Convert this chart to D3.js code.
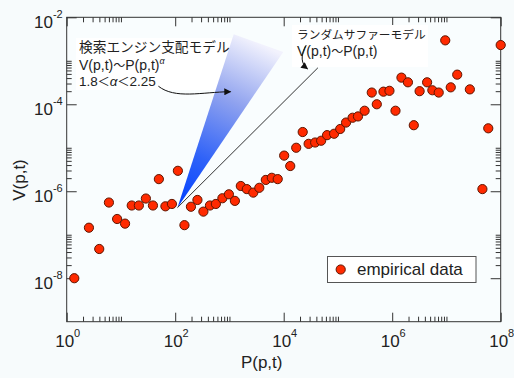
<!DOCTYPE html>
<html>
<head>
<meta charset="utf-8">
<script src="https://cdn.jsdelivr.net/npm/d3@7"></script>
<style>
  html, body { margin: 0; padding: 0; background: #f7fbfc; }
  svg { display: block; }
</style>
</head>
<body>
<svg id="chart" width="514" height="378"></svg>
<script>
// empirical data: P(p,t) and V(p,t)
const pValues = [
  1.38, 2.57, 3.98, 6.0, 8.5, 11.9, 15.8, 21.4, 28.8, 38.9,
  50, 66, 87, 112, 148, 195, 257, 331, 437, 562,
  741, 977, 1260, 1620, 2090, 2750, 3550, 4680, 6030, 7760,
  1.02e4, 1.32e4, 1.7e4, 2.24e4, 2.88e4, 3.8e4, 4.9e4, 6.3e4, 8.5e4, 1.1e5,
  1.41e5, 1.86e5, 2.34e5, 3.1e5, 4.2e5, 5.2e5, 6.9e5, 8.9e5, 1.15e6, 1.48e6,
  1.95e6, 2.5e6, 3.2e6, 4.4e6, 5.5e6, 7.2e6, 9.5e6, 1.2e7, 1.58e7, 2.7e7,
  4.6e7, 5.9e7, 1.0e8
];
const vValues = [
  1.0e-8, 1.45e-7, 4.7e-8, 5.5e-7, 2.3e-7, 1.8e-7, 4.7e-7, 4.7e-7, 6.8e-7, 4.7e-7,
  1.9e-6, 4.5e-7, 5.1e-7, 2.95e-6, 1.66e-7, 4.4e-7, 6.3e-7, 3.4e-7, 4.7e-7, 5.1e-7,
  6.9e-7, 8.5e-7, 6.0e-7, 1.32e-6, 1.12e-6, 9.3e-7, 1.2e-6, 1.82e-6, 2.04e-6, 1.9e-6,
  6.6e-6, 3.8e-6, 1.0e-5, 2.3e-5, 1.23e-5, 1.32e-5, 1.45e-5, 1.95e-5, 2.1e-5, 2.7e-5,
  3.8e-5, 4.9e-5, 5.25e-5, 7.1e-5, 1.86e-4, 1.0e-4, 1.95e-4, 2.04e-4, 7.1e-5, 4.1e-4,
  3.2e-4, 3.3e-5, 2.0e-4, 3.2e-4, 2.1e-4, 1.86e-4, 2.95e-3, 2.45e-4, 4.8e-4, 2.2e-4,
  1.12e-6, 2.8e-5, 2.3e-3
];

// tick labels (exponents of 10)
const xTickExps = [0, 2, 4, 6, 8];
const yTickExps = [-8, -6, -4, -2];

// model annotations in data space
const wedgeApex = [110, 4.2e-7];
const wedgeLeftEnd = [1200, 4.1e-3];
const wedgeRightEnd = [9800, 1.6e-3];
const surferEnd = [42700, 6.9e-4];

const svg = d3.select("#chart");
const mLeft = 66.7, mRight = 500.7, mTop = 17.3, mBottom = 321.7;

const x = d3.scaleLog().domain([1, 1e8]).range([mLeft, mRight]);
const y = d3.scaleLog().domain([1e-9, 1e-2]).range([mBottom, mTop]);

const LATIN = "'Liberation Sans', Arial, Helvetica, sans-serif";
const JP = "'Noto Sans CJK JP', 'Noto Sans', sans-serif";

// plot background
svg.append("rect")
  .attr("x", mLeft).attr("y", mTop)
  .attr("width", mRight - mLeft).attr("height", mBottom - mTop)
  .attr("fill", "#f9fdfe");

// --- ticks (major every two decades, minor 2..10 within even decades) ---
const xMajor = xTickExps.map(e => Math.pow(10, e));
const xMinor = xTickExps.slice(0, -1).flatMap(e => d3.range(2, 11).map(k => k * Math.pow(10, e)));
const yMajor = yTickExps.map(e => Math.pow(10, e));
const yMinor = yTickExps.slice(0, -1).flatMap(e => d3.range(2, 11).map(k => k * Math.pow(10, e)));

function styleAxis(g) {
  g.select(".domain").remove();
  g.selectAll("line").attr("stroke", "#333").attr("stroke-width", 1);
  g.selectAll("text").remove();
}

const axes = [
  [d3.axisBottom, x, `translate(0,${mBottom})`, xMajor, xMinor, 9],
  [d3.axisTop, x, `translate(0,${mTop})`, xMajor, xMinor, 9],
  [d3.axisLeft, y, `translate(${mLeft},0)`, yMajor, yMinor, 10],
  [d3.axisRight, y, `translate(${mRight},0)`, yMajor, yMinor, 10],
];
for (const [fn, sc, tr, major, minor, len] of axes) {
  svg.append("g").attr("transform", tr)
    .call(fn(sc).tickValues(major).tickSize(-len).tickFormat(""))
    .call(styleAxis);
  svg.append("g").attr("transform", tr)
    .call(fn(sc).tickValues(minor).tickSize(-5).tickFormat(""))
    .call(styleAxis);
}

// frame
svg.append("rect")
  .attr("x", mLeft).attr("y", mTop)
  .attr("width", mRight - mLeft).attr("height", mBottom - mTop)
  .attr("fill", "none").attr("stroke", "#333").attr("stroke-width", 1);

// tick labels
const xl = svg.append("g").attr("font-family", LATIN).attr("fill", "#222");
xTickExps.forEach(e => {
  const t = xl.append("text")
    .attr("x", x(Math.pow(10, e)) + 1)
    .attr("y", mBottom + 25)
    .attr("text-anchor", "middle")
    .attr("font-size", 17);
  t.append("tspan").text("10");
  t.append("tspan").attr("font-size", 11).attr("dy", -10).text(e);
});
yTickExps.forEach(e => {
  const t = xl.append("text")
    .attr("x", mLeft - 4)
    .attr("y", y(Math.pow(10, e)) + 11)
    .attr("text-anchor", "end")
    .attr("font-size", 17);
  t.append("tspan").text("10");
  t.append("tspan").attr("font-size", 11).attr("dy", -10).text(e);
});

// axis titles
svg.append("text")
  .attr("x", (mLeft + mRight) / 2 - 22)
  .attr("y", 368)
  .attr("text-anchor", "middle")
  .attr("font-family", LATIN).attr("font-size", 17).attr("fill", "#222")
  .text("P(p,t)");
svg.append("text")
  .attr("transform", `translate(25,180) rotate(-90)`)
  .attr("text-anchor", "middle")
  .attr("font-family", LATIN).attr("font-size", 17).attr("fill", "#222")
  .text("V(p,t)");

// text backgrounds
svg.append("rect").attr("x", 76).attr("y", 38).attr("width", 156).attr("height", 52).attr("fill", "#fff");
svg.append("rect").attr("x", 292).attr("y", 25).attr("width", 136).attr("height", 42).attr("fill", "#fff");

// --- search-engine wedge ---
const defs = svg.append("defs");
const ax = x(wedgeApex[0]), ay = y(wedgeApex[1]);
const topMid = [(x(wedgeLeftEnd[0]) + x(wedgeRightEnd[0])) / 2, (y(wedgeLeftEnd[1]) + y(wedgeRightEnd[1])) / 2];
const grad = defs.append("linearGradient")
  .attr("id", "wedgeGrad")
  .attr("gradientUnits", "userSpaceOnUse")
  .attr("x1", ax).attr("y1", ay)
  .attr("x2", topMid[0]).attr("y2", topMid[1]);
grad.append("stop").attr("offset", 0).attr("stop-color", "#0040ff");
grad.append("stop").attr("offset", 0.3).attr("stop-color", "#2f62f8");
grad.append("stop").attr("offset", 0.65).attr("stop-color", "#8fa2ef");
grad.append("stop").attr("offset", 1).attr("stop-color", "#f2f2fd");

svg.append("path")
  .attr("d", d3.line()([
    [ax, ay],
    [x(wedgeLeftEnd[0]), y(wedgeLeftEnd[1])],
    [x(wedgeRightEnd[0]), y(wedgeRightEnd[1])],
  ]) + "Z")
  .attr("fill", "url(#wedgeGrad)");

// --- random surfer line ---
svg.append("line")
  .attr("x1", ax).attr("y1", ay)
  .attr("x2", x(surferEnd[0])).attr("y2", y(surferEnd[1]))
  .attr("stroke", "#333").attr("stroke-width", 1);

// arrowheads
defs.append("marker")
  .attr("id", "arrow")
  .attr("viewBox", "0 0 10 10")
  .attr("refX", 9).attr("refY", 5)
  .attr("markerWidth", 9).attr("markerHeight", 7)
  .attr("markerUnits", "userSpaceOnUse")
  .attr("orient", "auto")
  .append("path").attr("d", "M0,0L10,5L0,10Z").attr("fill", "#111");

// arrow to wedge
svg.append("path")
  .attr("d", `M${x(49)},${y(2.6e-4)} C${x(100)},${y(1.3e-4)} ${x(300)},${y(1.9e-4)} ${x(1050)},${y(1.95e-4)}`)
  .attr("fill", "none").attr("stroke", "#111").attr("stroke-width", 1)
  .attr("marker-end", "url(#arrow)");

// arrow to surfer line
svg.append("path")
  .attr("d", `M${x(26000)},${y(2.3e-3)} C${x(20000)},${y(1.3e-3)} ${x(21000)},${y(8.5e-4)} ${x(27500)},${y(6.5e-4)}`)
  .attr("fill", "none").attr("stroke", "#111").attr("stroke-width", 1)
  .attr("marker-end", "url(#arrow)");

// annotation texts
const ann = svg.append("g").attr("fill", "#222");
ann.append("text").attr("x", 79).attr("y", 52).attr("font-family", JP).attr("font-size", 13.7)
  .text("検索エンジン支配モデル");
const f1 = ann.append("text").attr("x", 79).attr("y", 70).attr("font-family", LATIN).attr("font-size", 14);
f1.append("tspan").text("V(p,t)");
f1.append("tspan").attr("font-family", JP).attr("font-size", 12).text("～");
f1.append("tspan").text("P(p,t)");
f1.append("tspan").attr("font-size", 9).attr("font-style", "italic").attr("dy", -6).text("α");
const f2 = ann.append("text").attr("x", 79).attr("y", 86).attr("font-family", LATIN).attr("font-size", 13.5);
f2.append("tspan").text("1.8");
f2.append("tspan").attr("font-family", JP).attr("font-size", 12).text("＜");
f2.append("tspan").attr("font-style", "italic").text("α");
f2.append("tspan").attr("font-family", JP).attr("font-size", 12).text("＜");
f2.append("tspan").text("2.25");

ann.append("text").attr("x", 297).attr("y", 39).attr("font-family", JP).attr("font-size", 11.7)
  .text("ランダムサファーモデル");
const f3 = ann.append("text").attr("x", 297).attr("y", 56).attr("font-family", LATIN).attr("font-size", 14);
f3.append("tspan").text("V(p,t)");
f3.append("tspan").attr("font-family", JP).attr("font-size", 12).text("～");
f3.append("tspan").text("P(p,t)");

// --- data points ---
const data = pValues.map((p, i) => ({ p, v: vValues[i] }));
svg.append("g")
  .selectAll("circle")
  .data(data)
  .join("circle")
  .attr("cx", d => x(d.p))
  .attr("cy", d => y(d.v))
  .attr("r", 4.6)
  .attr("fill", "#ff2a00")
  .attr("stroke", "#5e1500")
  .attr("stroke-width", 1);

// legend
const lg = svg.append("g");
lg.append("rect")
  .attr("x", 327.5).attr("y", 256.5).attr("width", 148.5).attr("height", 26)
  .attr("fill", "#fff").attr("stroke", "#555").attr("stroke-width", 1);
lg.append("circle")
  .attr("cx", 340.7).attr("cy", 269.5).attr("r", 4.6)
  .attr("fill", "#ff2a00").attr("stroke", "#5e1500");
lg.append("text")
  .attr("x", 357).attr("y", 275)
  .attr("font-family", LATIN).attr("font-size", 17).attr("fill", "#222")
  .text("empirical data");
</script>
</body>
</html>
